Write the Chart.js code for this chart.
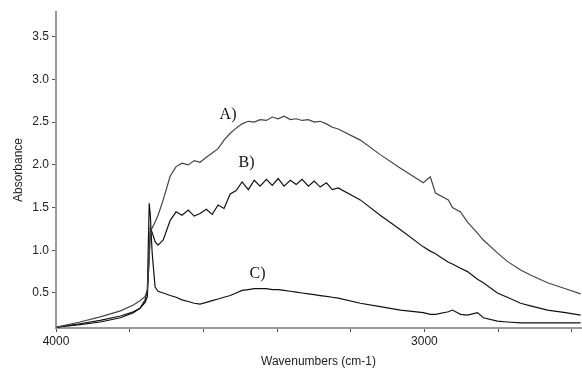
<!DOCTYPE html>
<html>
<head>
<meta charset="utf-8">
<script src="https://cdn.jsdelivr.net/npm/chart.js@4/dist/chart.umd.min.js"></script>
<style>
  html, body { margin: 0; padding: 0; background: #fff; }
  #wrap { width: 582px; height: 370px; }
</style>
</head>
<body>
<div id="wrap"><canvas id="chart" width="582" height="370"></canvas></div>
<script>
// IR spectra, absorbance vs wavenumber (x axis reversed)

const wavenumbers = [3998, 3935, 3880, 3825, 3790, 3772, 3758, 3752, 3747, 3744, 3739, 3731, 3723, 3709,
  3690, 3674, 3658, 3641, 3625, 3609, 3592, 3576, 3560, 3544, 3527, 3511, 3495, 3478, 3462, 3446, 3429, 3413,
  3397, 3381, 3364, 3348, 3332, 3315, 3299, 3283, 3266, 3250, 3234,
  3174, 3120, 3065, 3003, 2984, 2970, 2935, 2924, 2902, 2883, 2856, 2840, 2802, 2775, 2739, 2712, 2666, 2617, 2576];

const absA = [0.10, 0.16, 0.22, 0.29, 0.36, 0.41, 0.46, 0.54, 0.90, 1.22, 1.26, 1.33, 1.41, 1.59,
  1.87, 1.98, 2.02, 2.00, 2.05, 2.03, 2.09, 2.14, 2.19, 2.29, 2.37, 2.43, 2.48, 2.51, 2.50, 2.53, 2.52, 2.56,
  2.54, 2.57, 2.53, 2.54, 2.52, 2.53, 2.50, 2.51, 2.48, 2.44, 2.42,
  2.29, 2.12, 1.96, 1.79, 1.86, 1.67, 1.59, 1.50, 1.45, 1.33, 1.20, 1.12, 0.97, 0.87, 0.77, 0.71, 0.62, 0.55, 0.49];

const absB = [0.10, 0.14, 0.18, 0.23, 0.28, 0.32, 0.39, 0.46, 0.94, 1.26, 1.21, 1.10, 1.06, 1.12,
  1.35, 1.45, 1.41, 1.47, 1.40, 1.43, 1.48, 1.42, 1.53, 1.49, 1.66, 1.70, 1.80, 1.71, 1.82, 1.75, 1.83, 1.76,
  1.84, 1.75, 1.82, 1.77, 1.83, 1.75, 1.81, 1.74, 1.79, 1.71, 1.73,
  1.59, 1.41, 1.24, 1.04, 0.99, 0.96, 0.86, 0.84, 0.79, 0.75, 0.66, 0.62, 0.50, 0.45, 0.38, 0.35, 0.30, 0.27, 0.24];

const absC = [0.10, 0.13, 0.16, 0.21, 0.27, 0.32, 0.42, 0.54, 1.55, 1.41, 0.97, 0.57, 0.52, 0.50,
  0.47, 0.45, 0.42, 0.40, 0.38, 0.37, 0.39, 0.41, 0.43, 0.45, 0.47, 0.50, 0.53, 0.54, 0.55, 0.55, 0.55, 0.54,
  0.54, 0.53, 0.52, 0.51, 0.50, 0.49, 0.48, 0.47, 0.46, 0.45, 0.44,
  0.38, 0.34, 0.30, 0.27, 0.25, 0.25, 0.28, 0.30, 0.25, 0.24, 0.27, 0.21, 0.17, 0.16, 0.15, 0.15, 0.15, 0.15, 0.15];

const xTicks = [4000, 3800, 3600, 3400, 3200, 3000, 2800, 2600];
const yTicks = [0.5, 1.0, 1.5, 2.0, 2.5, 3.0, 3.5];

// curve labels: [text, wavenumber, absorbance]
const curveLabels = [['A)', 3533, 2.59], ['B)', 3483, 2.02], ['C)', 3453, 0.72]];

const toPoints = ys => ys.map((y, i) => ({x: wavenumbers[i], y: y}));

// draws the A) B) C) labels in data coordinates
const labelPlugin = {
  id: 'curveLabels',
  afterDatasetsDraw(chart) {
    const ctx = chart.ctx;
    const xs = chart.scales.x, ys = chart.scales.y;
    ctx.save();
    ctx.font = '16px "Liberation Serif", "Times New Roman", serif';
    ctx.fillStyle = '#111';
    ctx.textAlign = 'center';
    ctx.textBaseline = 'middle';
    curveLabels.forEach(l => {
      ctx.fillText(l[0], xs.getPixelForValue(l[1]), ys.getPixelForValue(l[2]));
    });
    ctx.restore();
  }
};

const ctx = document.getElementById('chart').getContext('2d');
const myChart = new Chart(ctx, {
  type: 'line',
  data: {
    datasets: [
      {label: 'A', data: toPoints(absA), borderColor: '#444', borderWidth: 1.2, pointRadius: 0, tension: 0},
      {label: 'B', data: toPoints(absB), borderColor: '#111', borderWidth: 1.2, pointRadius: 0, tension: 0},
      {label: 'C', data: toPoints(absC), borderColor: '#111', borderWidth: 1.2, pointRadius: 0, tension: 0}
    ]
  },
  options: {
    responsive: false,
    animation: false,
    layout: {padding: {top: 12, right: 1, left: 0, bottom: 0}},
    plugins: {legend: {display: false}, tooltip: {enabled: false}},
    scales: {
      x: {
        type: 'linear',
        reverse: true,
        min: 2575,
        max: 4000,
        afterBuildTicks: s => { s.ticks = xTicks.map(v => ({value: v})); },
        afterFit: s => { s.height = 42; },
        border: {color: '#9a9a9a', width: 2},
        grid: {drawOnChartArea: false, drawTicks: true, tickLength: 4, color: '#555'},
        ticks: {
          color: '#222',
          font: {family: '"Liberation Sans", Arial, sans-serif', size: 12},
          padding: 2,
          maxRotation: 0,
          autoSkip: false,
          callback: v => (v % 1000 === 0 ? String(v) : '')
        },
        title: {
          display: true,
          text: 'Wavenumbers (cm-1)',
          color: '#222',
          font: {family: '"Liberation Sans", Arial, sans-serif', size: 12},
          padding: {top: 0, bottom: 1}
        }
      },
      y: {
        min: 0.09,
        max: 3.79,
        afterBuildTicks: s => { s.ticks = yTicks.map(v => ({value: v})); },
        afterFit: s => { s.width = 56; },
        border: {color: '#9a9a9a', width: 2},
        grid: {drawOnChartArea: false, drawTicks: true, tickLength: 4, color: '#555'},
        ticks: {
          color: '#222',
          font: {family: '"Liberation Sans", Arial, sans-serif', size: 12},
          padding: 3,
          callback: v => v.toFixed(1)
        },
        title: {
          display: true,
          text: 'Absorbance',
          color: '#222',
          font: {family: '"Liberation Sans", Arial, sans-serif', size: 12},
          padding: {top: 11, bottom: 0}
        }
      }
    }
  },
  plugins: [labelPlugin]
});
</script>
</body>
</html>
